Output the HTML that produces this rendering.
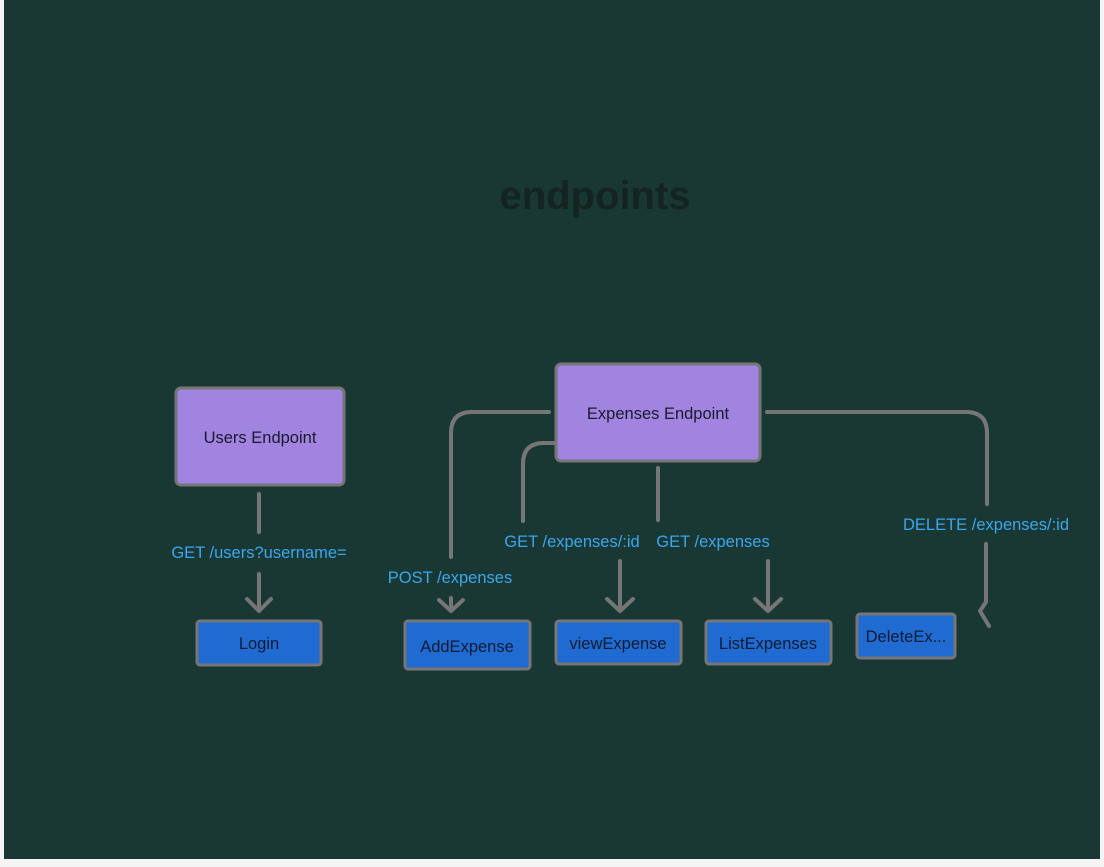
<!DOCTYPE html>
<html><head><meta charset="utf-8"><style>
html,body{margin:0;padding:0;background:#f4f4f4;}
svg{display:block}
</style></head><body>
<svg width="1104" height="867" viewBox="0 0 1104 867" xmlns="http://www.w3.org/2000/svg" font-family="Liberation Sans, sans-serif">
<rect x="0" y="0" width="1104" height="867" fill="#f4f4f4"/>
<rect x="4" y="0" width="1096" height="859" fill="#193833"/>
<text x="595" y="209" text-anchor="middle" font-size="40" font-weight="bold" fill="#142420">endpoints</text>
<g fill="none" stroke="#767676" stroke-width="4" stroke-linecap="round" stroke-linejoin="round">
<path d="M259 494 V532"/>
<path d="M259 574 V611 M247 599 L259 611 L271 599"/>
<path d="M549 412 H472 Q451 412 451 433 V557"/>
<path d="M451 598 V611 M439 600 L451 611 L463 600"/>
<path d="M579 443 H544 Q523 443 523 464 V521"/>
<path d="M620 561 V611 M607 599 L620 611 L633 599"/>
<path d="M658 468 V520"/>
<path d="M768 561 V611 M755 599 L768 611 L781 599"/>
<path d="M767 412 H966 Q987 412 987 433 V504"/>
<path d="M986 544 V602 L980 611 L989 626"/>
</g>
<rect x="176" y="388" width="168" height="97" rx="5" fill="#a084e0" stroke="#767676" stroke-width="3"/>
<text x="260" y="443" text-anchor="middle" font-size="16.5" fill="#1a1a2e">Users Endpoint</text>
<rect x="556" y="364" width="204" height="97" rx="5" fill="#a084e0" stroke="#767676" stroke-width="3"/>
<text x="658" y="419" text-anchor="middle" font-size="16.5" fill="#1a1a2e">Expenses Endpoint</text>
<g stroke="#767676" stroke-width="3" fill="#1f6bd1">
<rect x="197" y="621" width="124" height="44" rx="3"/>
<rect x="405" y="621" width="125" height="48" rx="3"/>
<rect x="556" y="621" width="125" height="43" rx="3"/>
<rect x="706" y="621" width="125" height="43" rx="3"/>
<rect x="857" y="614" width="98" height="44" rx="3"/>
</g>
<g font-size="16.5" fill="#101b33" text-anchor="middle">
<text x="259" y="649">Login</text>
<text x="467" y="652">AddExpense</text>
<text x="618" y="649">viewExpense</text>
<text x="768" y="649">ListExpenses</text>
<text x="906" y="642">DeleteEx...</text>
</g>
<g font-size="16.5" fill="#3aa6ee" text-anchor="middle">
<text x="259" y="558">GET /users?username=</text>
<text x="450" y="583">POST /expenses</text>
<text x="572" y="547">GET /expenses/:id</text>
<text x="713" y="547">GET /expenses</text>
<text x="986" y="530">DELETE /expenses/:id</text>
</g>
</svg>
</body></html>
